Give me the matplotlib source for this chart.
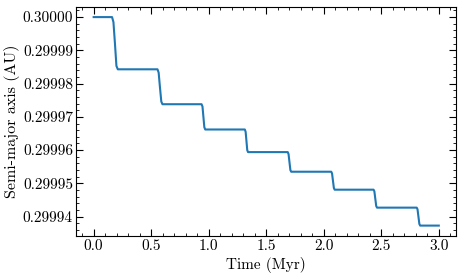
import matplotlib
matplotlib.use("Agg")
import matplotlib.pyplot as plt
from matplotlib.ticker import MultipleLocator, FormatStrFormatter

plt.rcParams["font.family"] = "serif"
plt.rcParams["font.serif"] = ["cmr10"]
plt.rcParams["mathtext.fontset"] = "cm"
plt.rcParams["axes.formatter.use_mathtext"] = True

time_myr = [
    0.00, 0.160, 0.172, 0.185, 0.198, 0.210,
    0.555, 0.565, 0.576, 0.588, 0.598,
    0.938, 0.946, 0.954, 0.962, 0.970,
    1.314, 1.321, 1.328, 1.335, 1.342,
    1.687, 1.694, 1.702, 1.710, 1.717,
    2.065, 2.072, 2.080, 2.088, 2.095,
    2.433, 2.440, 2.448, 2.456, 2.463,
    2.808, 2.815, 2.823, 2.831, 2.838,
    3.000,
]
semi_major = [
    0.3000000, 0.3000000, 0.2999985, 0.2999921, 0.2999853, 0.2999843,
    0.2999843, 0.2999833, 0.2999790, 0.2999746, 0.2999738,
    0.2999738, 0.2999731, 0.2999700, 0.2999669, 0.2999662,
    0.2999662, 0.2999655, 0.2999628, 0.2999600, 0.2999594,
    0.2999594, 0.2999588, 0.2999564, 0.2999540, 0.2999535,
    0.2999535, 0.2999530, 0.2999508, 0.2999486, 0.2999481,
    0.2999481, 0.2999476, 0.2999454, 0.2999432, 0.2999427,
    0.2999427, 0.2999422, 0.2999400, 0.2999378, 0.2999373,
    0.2999373,
]

fig = plt.figure(figsize=(4.63, 2.78), dpi=100)
ax = fig.add_axes([0.165, 0.151, 0.820, 0.825])

ax.plot(time_myr, semi_major, color="tab:blue", lw=1.5)

ax.set_xlabel("Time (Myr)", fontsize=11, labelpad=3)
ax.set_ylabel("Semi-major axis (AU)", fontsize=11.5, labelpad=1.5)

ax.xaxis.set_major_locator(MultipleLocator(0.5))
ax.xaxis.set_minor_locator(MultipleLocator(0.1))
ax.yaxis.set_major_locator(MultipleLocator(0.00001))
ax.yaxis.set_minor_locator(MultipleLocator(0.000002))
ax.yaxis.set_major_formatter(FormatStrFormatter("%.5f"))
ax.xaxis.set_major_formatter(FormatStrFormatter("%.1f"))

ax.tick_params(which="both", direction="in", top=True, right=True, labelsize=11, pad=2.5)
ax.tick_params(which="major", length=5, width=0.8)
ax.tick_params(which="minor", length=2.5, width=0.6)
for s in ax.spines.values():
    s.set_linewidth(0.8)

fig.savefig("out.png", dpi=100)
